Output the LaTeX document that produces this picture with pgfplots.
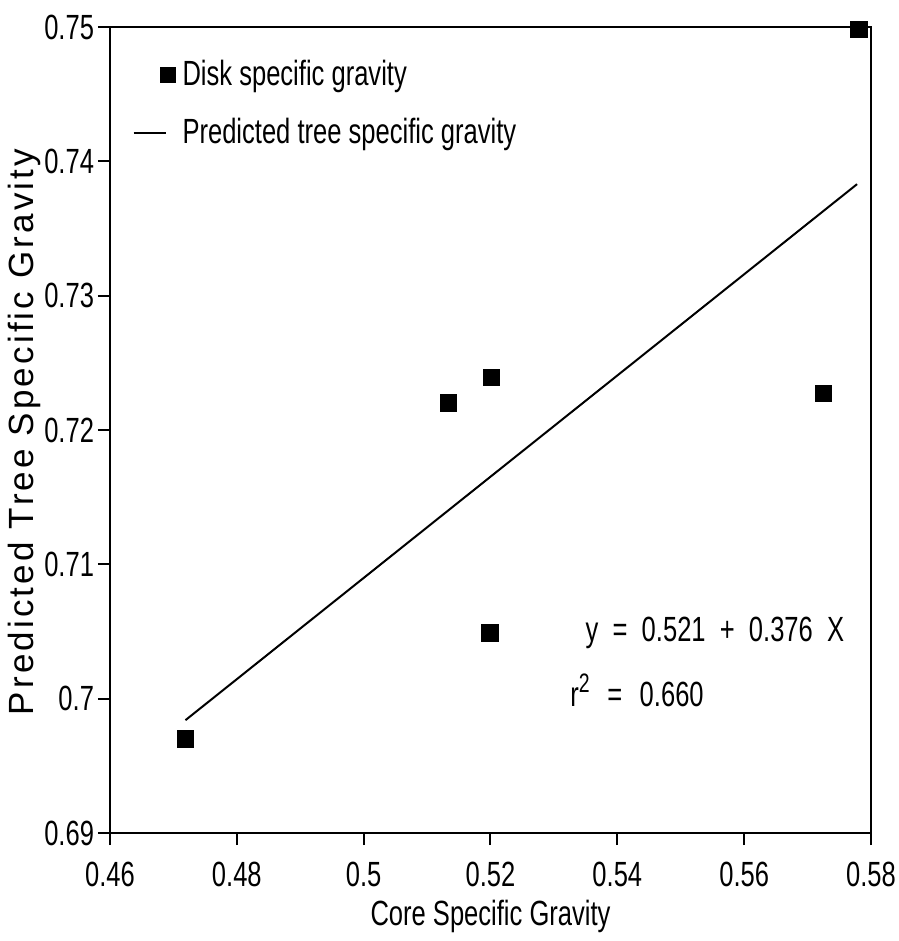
\documentclass[border=0pt]{standalone}
\usepackage{fontspec}
\setmainfont[FakeStretch=0.73]{Liberation Sans}
\newfontfamily\ylabfont[LetterSpace=9]{Liberation Sans}
\newfontfamily\eqfont[FakeStretch=0.73, WordSpace=2]{Liberation Sans}
\usepackage{pgfplots}
\pgfplotsset{compat=1.18}

\newcommand\chartfont{\fontsize{10.5}{12}\selectfont}

% legend images: marker sits right of where the line sample ends
\pgfplotsset{
  markleg/.style={legend image code/.code={%
      \path (0pt,0pt) (13pt,0pt);
      \draw[##1, mark size=2.2pt] plot coordinates {(10.4pt,0pt)};}},
  lineleg/.style={legend image code/.code={%
      \draw[##1] (0pt,0pt) -- (9.6pt,0pt);
      \path (13pt,0pt);}},
}

\begin{document}
\begin{tikzpicture}
\begin{axis}[
    scale only axis,
    width=228.3pt,
    height=241.8pt,
    xmin=0.46, xmax=0.58,
    ymin=0.69, ymax=0.75,
    xtick={0.46,0.48,...,0.58},
    ytick={0.69,0.70,...,0.75},
    tick pos=left,
    tick align=outside,
    major tick length=3.6pt,
    axis line style={line width=0.6pt},
    tick style={line width=0.6pt, black},
    /pgf/number format/assume math mode=true,
    /pgf/number format/fixed,
    /pgf/number format/precision=2,
    ticklabel style={font=\chartfont},
    xticklabel style={yshift=-1.5pt},
    yticklabel style={inner sep=1pt},
    xlabel={Core Specific Gravity},
    ylabel={Predicted Tree Specific Gravity},
    xlabel style={font=\chartfont, at={(axis description cs:0.5,-0.104)}, anchor=center},
    ylabel style={font=\ylabfont\fontsize{10.5}{12}\selectfont, at={(axis description cs:-0.1124,0.4975)}, anchor=center},
    clip=false,
    legend style={
        at={(axis description cs:0.0156,0.974)}, anchor=north west,
        draw=none, fill=none, font=\chartfont,
        row sep=5.5pt,
        nodes={inner sep=1.4pt},
    },
    legend cell align=left,
]
\addplot[only marks, mark=square*, mark size=2.4pt, black, markleg] coordinates {
    (0.5781, 0.7498)
    (0.5134, 0.7220)
    (0.5202, 0.7239)
    (0.5725, 0.7227)
    (0.5199, 0.7049)
    (0.4719, 0.6970)
};
\addlegendentry{Disk specific gravity}
\addplot[black, line width=0.6pt, no markers, lineleg] coordinates {
    (0.4719, 0.6984)
    (0.5778, 0.7383)
};
\addlegendentry{Predicted tree specific gravity}
\node[anchor=west, inner sep=0pt, font=\eqfont\chartfont] at (axis cs:0.5349,0.7049) {y = 0.521 + 0.376 X};
\node[anchor=west, inner sep=0pt, font=\eqfont\chartfont] at (axis cs:0.5325,0.7006) {r\raisebox{4.2pt}{\fontsize{8}{9}\selectfont 2}\hspace{1pt} = \hspace{1pt}0.660};
\end{axis}
\pgfresetboundingbox
\path (-33pt,-32.4pt) rectangle (236.7pt,249.9pt);
\end{tikzpicture}
\end{document}
